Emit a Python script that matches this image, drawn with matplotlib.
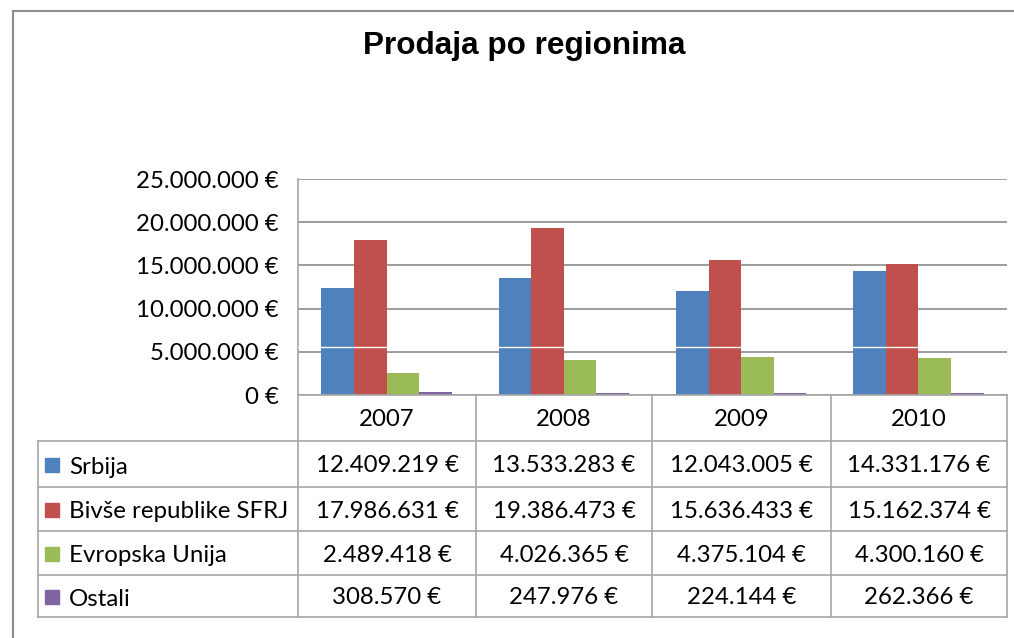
import matplotlib
matplotlib.use('agg')
import matplotlib.pyplot as plt
from matplotlib.lines import Line2D
from matplotlib.patches import Rectangle
from matplotlib.ticker import MultipleLocator, FuncFormatter

# data
years = ['2007', '2008', '2009', '2010']
regions = ['Srbija', 'Bivše republike SFRJ', 'Evropska Unija', 'Ostali']
srbija = [12409219, 13533283, 12043005, 14331176]
bivse_sfrj = [17986631, 19386473, 15636433, 15162374]
evropska_unija = [2489418, 4026365, 4375104, 4300160]
ostali = [308570, 247976, 224144, 262366]
series = [srbija, bivse_sfrj, evropska_unija, ostali]
colors = ['#4F81BD', '#C0504D', '#9BBB59', '#8064A2']

W, H = 1014, 638
plt.rcParams['font.family'] = ['Lato', 'DejaVu Sans']
body_size = 17.3
line_col = '#A6A6A6'


def fx(x):
    return x / W


def fy(y):
    return 1 - y / H


def euro(v):
    return f'{v:,.0f} €'.replace(',', '.')


def hline(y, x0, x1, color=line_col, lw=1.2):
    fig.add_artist(Line2D([fx(x0), fx(x1)], [fy(y), fy(y)], transform=fig.transFigure,
                          color=color, lw=lw))


def vline(x, y0, y1, color=line_col, lw=1.2):
    fig.add_artist(Line2D([fx(x), fx(x)], [fy(y0), fy(y1)], transform=fig.transFigure,
                          color=color, lw=lw))


fig = plt.figure(figsize=(W / 100, H / 100), dpi=100)

# chart frame
hline(11, 13, W, color='#8C8C8C', lw=1.5)
vline(13, 11, H, color='#8C8C8C', lw=1.5)

fig.text(fx(524), fy(46), 'Prodaja po regionima', ha='center', va='center',
         fontsize=22.7, fontweight='bold', family=['Liberation Sans', 'DejaVu Sans'])

# plot area
left, right, top, bottom = 298, 1007, 179, 395
ax = fig.add_axes([fx(left), fy(bottom), (right - left) / W, (bottom - top) / H])
bar_w = 0.184
xs = range(len(years))
for i, (vals, c) in enumerate(zip(series, colors)):
    ax.bar([x + (i - 1.5) * bar_w for x in xs], vals, width=bar_w, color=c,
           zorder=2, label=regions[i])
ax.axhline(5580000, color='white', lw=1, zorder=3)

ax.set_xlim(-0.5, len(years) - 0.5)
ax.set_ylim(0, 25000000)
ax.yaxis.set_major_locator(MultipleLocator(5000000))
ax.yaxis.set_major_formatter(FuncFormatter(lambda v, p: euro(v)))
ax.grid(axis='y', color='#8C8C8C', lw=1.2, zorder=0)
ax.set_xticks([])
ax.tick_params(axis='y', length=0, pad=14, labelsize=body_size)
for s in ['top', 'right']:
    ax.spines[s].set_visible(False)
for s in ['left', 'bottom']:
    ax.spines[s].set_color(line_col)
    ax.spines[s].set_linewidth(1.2)

# data table
col_x = [298, 476, 652, 831, 1007]
row_y = [395, 441, 487, 531, 575, 617]
tab_left = 38

for y in row_y[1:]:
    hline(y, tab_left, col_x[-1])
for x in col_x:
    vline(x, row_y[0], row_y[-1])
vline(tab_left, row_y[1], row_y[-1])

for j, yr in enumerate(years):
    fig.text(fx((col_x[j] + col_x[j + 1]) / 2), fy((row_y[0] + row_y[1]) / 2 + 2), yr,
             ha='center', va='center', fontsize=body_size)

for i, (name, vals, c) in enumerate(zip(regions, series, colors)):
    yc = (row_y[i + 1] + row_y[i + 2]) / 2
    fig.add_artist(Rectangle((fx(45), fy(yc + 8)), 14 / W, 14 / H,
                             transform=fig.transFigure, color=c))
    fig.text(fx(69), fy(yc + 3), name, ha='left', va='center', fontsize=body_size)
    for j, v in enumerate(vals):
        fig.text(fx((col_x[j] + col_x[j + 1]) / 2), fy(yc + 2), euro(v),
                 ha='center', va='center', fontsize=body_size)

plt.savefig('out.png', dpi=100)
